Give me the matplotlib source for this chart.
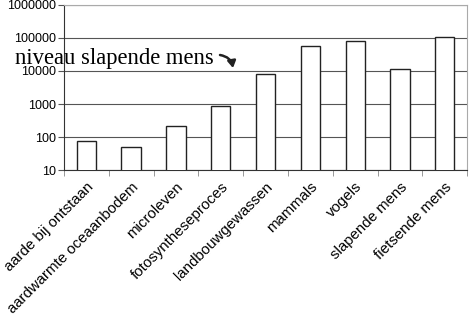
import matplotlib
matplotlib.use("Agg")
import matplotlib.pyplot as plt
import matplotlib.transforms as mtransforms
import numpy as np

categories = ["aarde bij ontstaan", "aardwarmte oceaanbodem", "microleven",
              "fotosyntheseproces", "landbouwgewassen", "mammals", "vogels",
              "slapende mens", "fietsende mens"]
values = [75, 50, 210, 900, 8200, 56000, 80000, 11500, 105000]
yticks = [10, 100, 1000, 10000, 100000, 1000000]
ytick_labels = ["10", "100", "1000", "10000", "100000", "1000000"]

fig = plt.figure(figsize=(4.7, 3.24), dpi=100)
ax = fig.add_axes([0.136, 0.475, 0.858, 0.51])
x = np.arange(len(categories))
ax.bar(x, values, width=0.43, color="white", edgecolor="#222222", linewidth=1.0, zorder=3)
ax.set_yscale("log")
ax.set_ylim(10, 1000000)
ax.set_xlim(-0.5, len(categories) - 0.5)
ax.set_yticks(yticks)
ax.set_yticklabels(ytick_labels, fontsize=9, family="Liberation Sans")
ax.minorticks_off()
ax.yaxis.grid(True, color="#555555", linewidth=0.8, zorder=0)
ax.set_xticks(x)
labels = ax.set_xticklabels(categories, rotation=45, ha="right", va="top",
                            rotation_mode="anchor", fontsize=10.8, family="Liberation Sans")
offset = mtransforms.ScaledTranslation(10 / 100, 0, fig.dpi_scale_trans)
for lab in labels:
    lab.set_transform(lab.get_transform() + offset)
ax.tick_params(axis="x", length=0, pad=7)
ax.set_xticks(np.arange(-0.5, len(categories)), minor=True)
ax.tick_params(axis="x", which="minor", length=4, color="#888888")
ax.tick_params(axis="y", length=4, color="#555555", pad=2)
for s in ["top", "right"]:
    ax.spines[s].set_color("#aaaaaa")
ax.spines["left"].set_color("#333333")
ax.spines["bottom"].set_color("#333333")

fig.text(0.032, 1 - 64 / 324, "niveau slapende mens", family="Liberation Serif", fontsize=16.3,
         va="baseline", ha="left")
ax.annotate("", xy=(233, 324 - 68), xytext=(220, 324 - 55),
            xycoords="figure pixels", textcoords="figure pixels",
            arrowprops=dict(arrowstyle="-|>,head_length=0.5,head_width=0.3", color="#222222",
                            lw=1.8, shrinkA=0, shrinkB=0, mutation_scale=8,
                            connectionstyle="arc3,rad=-0.35"))

fig.savefig("out.png", dpi=100)
